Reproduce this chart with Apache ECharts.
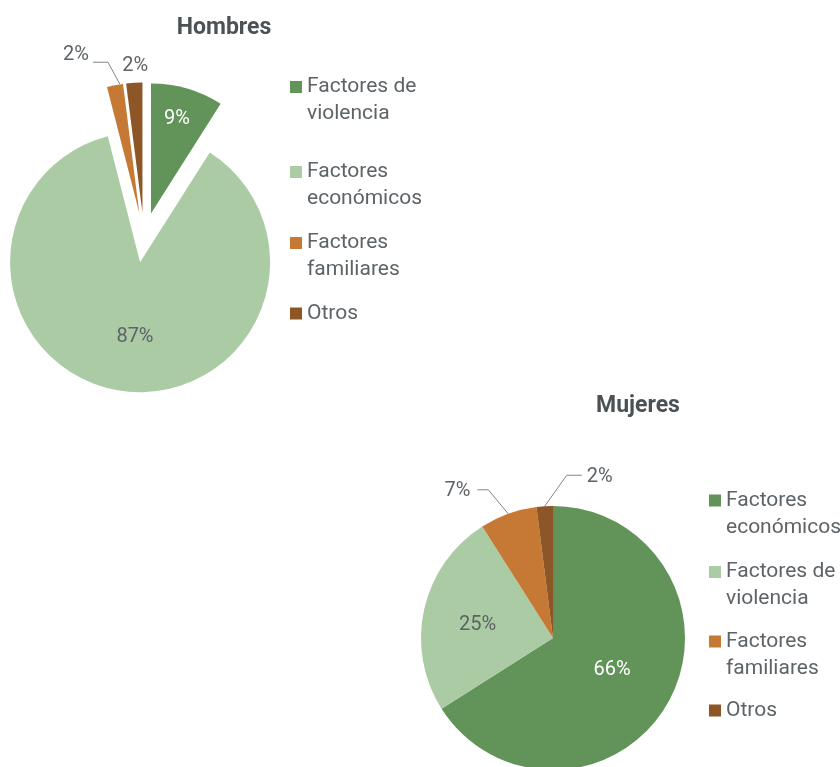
<!DOCTYPE html>
<html>
<head>
<meta charset="utf-8">
<script src="https://cdn.jsdelivr.net/npm/echarts@6/dist/echarts.min.js"></script>
<style>
  html, body { margin: 0; padding: 0; background: #ffffff; }
  #chart { width: 840px; height: 767px; }
</style>
</head>
<body>
<div id="chart"></div>
<script>
// Motivos de migración, porcentaje por sexo
const menCategories = ['Factores de violencia', 'Factores económicos', 'Factores familiares', 'Otros'];
const menValues = [9, 87, 2, 2];

const womenCategories = ['Factores económicos', 'Factores de violencia', 'Factores familiares', 'Otros'];
const womenValues = [66, 25, 7, 2];

// Legend text, wrapped the way it is printed
const legendLines = {
  'Factores de violencia': 'Factores de\nviolencia',
  'Factores económicos': 'Factores\neconómicos',
  'Factores familiares': 'Factores\nfamiliares',
  'Otros': 'Otros'
};

const sliceColors = ['#62945A', '#ABCBA5', '#C67935', '#8C5627'];
const FONT = 'Roboto, "Noto Sans", sans-serif';
const TEXT = '#5d6367';
const LINE_H = 27;
const SWATCH = 12;

function buildData(names, values, labelKinds, exploded) {
  return names.map((name, i) => {
    const kind = labelKinds[i];
    const inside = kind.startsWith('inside');
    return {
      name: name,
      value: values[i],
      selected: exploded,
      itemStyle: { color: sliceColors[i] },
      label: {
        position: inside ? 'inside' : 'outside',
        color: kind === 'insideLight' ? '#ffffff' : TEXT
      },
      labelLine: {
        show: !inside,
        lineStyle: { opacity: kind === 'outsideBare' ? 0 : 1 }
      }
    };
  });
}

function pieSeries(id, names, values, kinds, center, radius, offset, layoutFn) {
  return {
    id: id,
    type: 'pie',
    center: center,
    radius: radius,
    startAngle: 90,
    clockwise: true,
    avoidLabelOverlap: false,
    selectedMode: offset > 0 ? 'multiple' : false,
    selectedOffset: offset,
    animation: false,
    silent: true,
    itemStyle: { borderWidth: 0 },
    select: { itemStyle: { borderWidth: 0 } },
    emphasis: { disabled: true },
    label: {
      show: true,
      fontFamily: FONT,
      fontSize: 20,
      formatter: p => p.value + '%',
      distanceToLabelLine: 4
    },
    labelLine: {
      length: 24,
      length2: 12,
      smooth: false,
      lineStyle: { color: '#80868a', width: 1 }
    },
    labelLayout: layoutFn,
    data: buildData(names, values, kinds, offset > 0)
  };
}

// Leader line reshaping: start nudge, bend offset, horizontal run (relative to the slice edge point)
function reshapeLeader(pts, start, bend, run) {
  const p0 = [pts[0][0] + start[0], pts[0][1] + start[1]];
  const p1 = [pts[0][0] + bend[0], pts[0][1] + bend[1]];
  const p2 = [p1[0] + run, p1[1]];
  return [p0, p1, p2];
}

function menLayout(p) {
  const pts = p.labelLinePoints;
  switch (p.dataIndex) {
    case 0: return { dx: 7, dy: -29 };
    case 1: return { dx: 5.5, dy: 7.5 };
    case 2: {
      if (!pts) return {};
      const line = reshapeLeader(pts, [5, -1], [-7, -23], -15);
      return {
        labelLinePoints: line,
        dx: (line[2][0] - 4) - (pts[2][0] - 4),
        dy: line[2][1] - pts[2][1] - 7
      };
    }
    case 3: {
      if (!pts) return {};
      return {
        align: 'center',
        dx: pts[0][0] + 1 - (pts[2][0] - 4),
        dy: pts[0][1] - 17 - pts[2][1]
      };
    }
  }
  return {};
}

function womenLayout(p) {
  const pts = p.labelLinePoints;
  switch (p.dataIndex) {
    case 0: return { dx: -1.5, dy: -1.5 };
    case 1: return { dx: -8, dy: 2 };
    case 2: {
      if (!pts) return {};
      const line = reshapeLeader(pts, [0, 0], [-20, -24], -11);
      return {
        labelLinePoints: line,
        dx: (line[2][0] - 7) - (pts[2][0] - 4),
        dy: line[2][1] - pts[2][1] + 1
      };
    }
    case 3: {
      if (!pts) return {};
      const line = reshapeLeader(pts, [0, 0], [22, -31], 15);
      return {
        labelLinePoints: line,
        align: 'left',
        dx: (line[2][0] + 5) - (pts[2][0] - 4),
        dy: line[2][1] + 1.5 - pts[2][1]
      };
    }
  }
  return {};
}

// Legend: one block per entry; the swatch path is padded below so it sits on the first text line
function legendBlocks(names, left, iconCenters) {
  return names.map((name, i) => {
    const lines = legendLines[name].split('\n').length;
    const extra = LINE_H * (lines - 1);
    const h = SWATCH + extra;
    const icon = extra > 0
      ? 'path://M0,0L' + SWATCH + ',0L' + SWATCH + ',' + SWATCH + 'L0,' + SWATCH + 'ZM0,' + h + 'L' + SWATCH + ',' + h
      : 'rect';
    return {
      left: left,
      top: iconCenters[i] - LINE_H / 2,
      padding: 0,
      orient: 'vertical',
      itemWidth: SWATCH,
      itemHeight: h,
      itemGap: 0,
      selectedMode: false,
      icon: icon,
      data: [{ name: name, icon: icon, itemStyle: { color: sliceColors[i], borderWidth: 0 } }],
      formatter: n => legendLines[n],
      textStyle: {
        fontFamily: FONT,
        fontSize: 21,
        color: TEXT,
        lineHeight: LINE_H
      }
    };
  });
}

const chart = echarts.init(document.getElementById('chart'), null, { renderer: 'canvas' });

chart.setOption({
  backgroundColor: '#ffffff',
  animation: false,
  title: [
    {
      text: 'Hombres', left: 219, top: 12, textAlign: 'center',
      textStyle: { fontFamily: FONT, fontSize: 23, fontWeight: 'bold', color: '#4b5256' }
    },
    {
      text: 'Mujeres', left: 633, top: 390, textAlign: 'center',
      textStyle: { fontFamily: FONT, fontSize: 23, fontWeight: 'bold', color: '#4b5256' }
    }
  ],
  legend: [
    ...legendBlocks(menCategories, 290, [87, 172, 243, 313.5]),
    ...legendBlocks(womenCategories, 709, [500.5, 572, 641.5, 710.5])
  ],
  series: [
    pieSeries('hombres', menCategories, menValues,
      ['insideLight', 'insideDark', 'outsideLine', 'outsideBare'],
      [144, 237.5], 130, 25, menLayout),
    pieSeries('mujeres', womenCategories, womenValues,
      ['insideLight', 'insideDark', 'outsideLine', 'outsideMirror'],
      [553, 638], 132, 0, womenLayout)
  ]
});
</script>
</body>
</html>
